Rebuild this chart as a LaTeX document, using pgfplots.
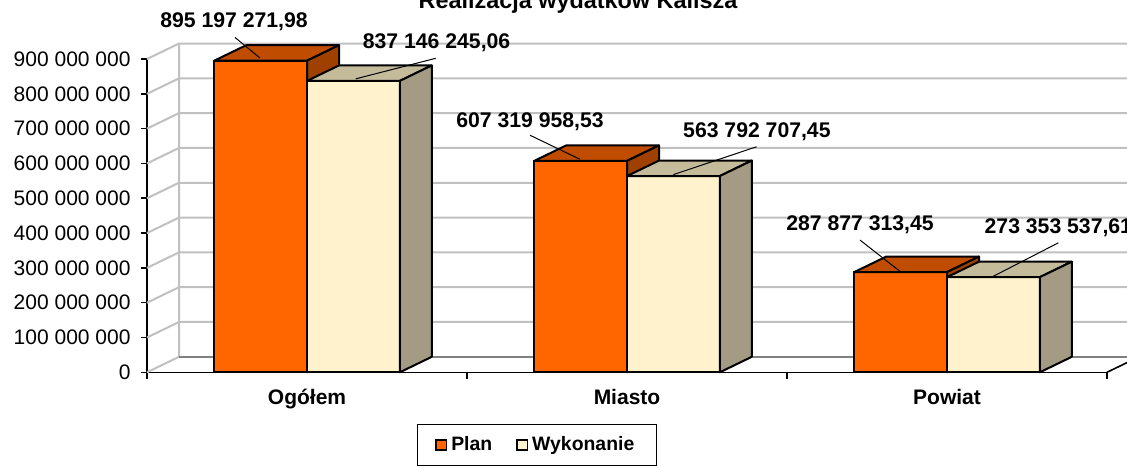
\documentclass[border=0pt]{standalone}
\usepackage{fontspec}
\setmainfont{Liberation Sans}
\usepackage{pgfplots}
\usepackage{pgfplotstable}
\pgfplotsset{compat=1.18}

\definecolor{planfront}{RGB}{255,102,0}
\definecolor{plantop}{RGB}{192,76,0}
\definecolor{planside}{RGB}{160,64,0}
\definecolor{wykfront}{RGB}{255,242,204}
\definecolor{wyktop}{RGB}{196,187,155}
\definecolor{wykside}{RGB}{163,155,131}
\definecolor{gridgray}{RGB}{192,192,192}
\definecolor{floorgray}{RGB}{128,128,128}

% values in millions of PLN
\pgfplotstableread{
x   plan          wyk
0.5 895.19727198  837.14624506
1.5 607.31995853  563.79270745
2.5 287.87731345  273.35353761
}\datatable

% depth of the 3D effect: 0.1 x-units, 44.5 y-units
\newcommand\barfaces[4]{%
 \pgfplotsforeachungrouped \i in {0,1,2}{%
  \pgfplotstablegetelem{\i}{x}\of\datatable \let\cx\pgfplotsretval
  \pgfplotstablegetelem{\i}{#1}\of\datatable \let\v\pgfplotsretval
  \pgfmathsetmacro\xl{\cx+(#2)}%
  \pgfmathsetmacro\xr{\xl+0.29}%
  \pgfmathsetmacro\xlb{\xl+0.1}%
  \pgfmathsetmacro\xrb{\xr+0.1}%
  \pgfmathsetmacro\vb{\v+44.5}%
  \edef\tmp{\noexpand\addplot[forget plot, fill=#3, draw=black, line width=1pt, line join=round] coordinates {(\xl,\v) (\xr,\v) (\xrb,\vb) (\xlb,\vb)} -- cycle;
   \noexpand\addplot[forget plot, fill=#4, draw=black, line width=1pt, line join=round] coordinates {(\xr,0) (\xr,\v) (\xrb,\vb) (\xrb,44.5)} -- cycle;}%
  \tmp
 }%
}

\begin{document}
\begin{tikzpicture}
\begin{axis}[
  at={(0pt,0pt)}, anchor=south west,
  scale only axis, width=480pt, height=156.65pt,
  xmin=0, xmax=3, ymin=0, ymax=900,
  clip=false,
  axis lines*=left,
  axis line style={black, line width=0.8pt},
  ytick={0,100,...,900},
  yticklabels={0,100 000 000,200 000 000,300 000 000,400 000 000,500 000 000,600 000 000,700 000 000,800 000 000,900 000 000},
  yticklabel style={font=\fontsize{10.5}{12}\selectfont, xshift=-1.5pt},
  xtick={0,1,2,3}, xticklabels={,,,},
  extra x ticks={0.5,1.5,2.5},
  extra x tick labels={Ogółem,Miasto,Powiat},
  extra x tick style={major tick length=0pt, xticklabel style={font=\bfseries\fontsize{10.5}{12}\selectfont, yshift=-5pt}},
  tick align=outside, major tick length=3.2pt,
  tick style={black, line width=0.8pt},
  legend columns=2,
  legend style={at={(0.406,-0.232)}, anchor=center, draw=black, line width=0.6pt,
    font=\bfseries\fontsize{9.7}{11}\selectfont, inner xsep=9pt, inner ysep=4pt,
    /tikz/every even column/.append style={column sep=10pt}},
]
% walls, floor and gridlines
\pgfplotsinvokeforeach{100,200,300,400,500,600,700,800,900}{
  \draw[gridgray, line width=1pt] (axis cs:0,#1) -- ++(16pt,7.75pt) -- ++(520pt,0pt);
}
\draw[gridgray, line width=1pt] (axis cs:0,0) -- ++(16pt,7.75pt) -- ++(0pt,156.65pt);
\draw[floorgray, line width=1pt] (axis cs:0,0) ++(16pt,7.75pt) -- ++(520pt,0pt);
\draw[black, line width=0.8pt] (axis cs:3,0) -- ++(16pt,7.75pt);

% Plan
\addplot[ybar, bar width=0.29, bar shift=-0.145, fill=planfront, draw=black, line width=1pt,
  legend image code/.code={\draw[fill=planfront, draw=black, line width=0.8pt] (0pt,-2.6pt) rectangle (5.2pt,2.6pt);}]
  table[x=x, y=plan]{\datatable};
\addlegendentry{Plan}
\barfaces{plan}{-0.29}{plantop}{planside}
% Wykonanie
\addplot[ybar, bar width=0.29, bar shift=0.145, fill=wykfront, draw=black, line width=1pt,
  legend image code/.code={\draw[fill=wykfront, draw=black, line width=0.8pt] (0pt,-2.6pt) rectangle (5.2pt,2.6pt);}]
  table[x=x, y=wyk]{\datatable};
\addlegendentry{Wykonanie}
\barfaces{wyk}{0}{wyktop}{wykside}

% data labels with leader lines
\tikzset{dl/.style={font=\bfseries\fontsize{10.6}{12}\selectfont, anchor=center, inner sep=0pt}}
\node[dl] at (axis cs:0.272,1006) {895 197 271,98};
\draw[line width=0.5pt] (axis cs:0.275,962) -- (axis cs:0.353,903);
\node[dl] at (axis cs:0.905,947) {837 146 245,06};
\draw[line width=0.5pt] (axis cs:0.902,902) -- (axis cs:0.652,843);
\node[dl] at (axis cs:1.197,720) {607 319 958,53};
\draw[line width=0.5pt] (axis cs:1.197,681) -- (axis cs:1.353,612);
\node[dl] at (axis cs:1.906,691) {563 792 707,45};
\draw[line width=0.5pt] (axis cs:1.905,648) -- (axis cs:1.645,568);
\node[dl] at (axis cs:2.228,423) {287 877 313,45};
\draw[line width=0.5pt] (axis cs:2.228,380) -- (axis cs:2.353,290);
\node[dl] at (axis cs:2.848,414) {273 353 537,61};
\draw[line width=0.5pt] (axis cs:2.848,372) -- (axis cs:2.645,276);
\end{axis}
\node[font=\bfseries\fontsize{11.7}{14}\selectfont, anchor=base] at (215.5pt,181.65pt) {Realizacja wydatków Kalisza};
\pgfresetboundingbox
\useasboundingbox (-73.5pt,-47.35pt) rectangle (490pt,186.15pt);
\end{tikzpicture}
\end{document}
